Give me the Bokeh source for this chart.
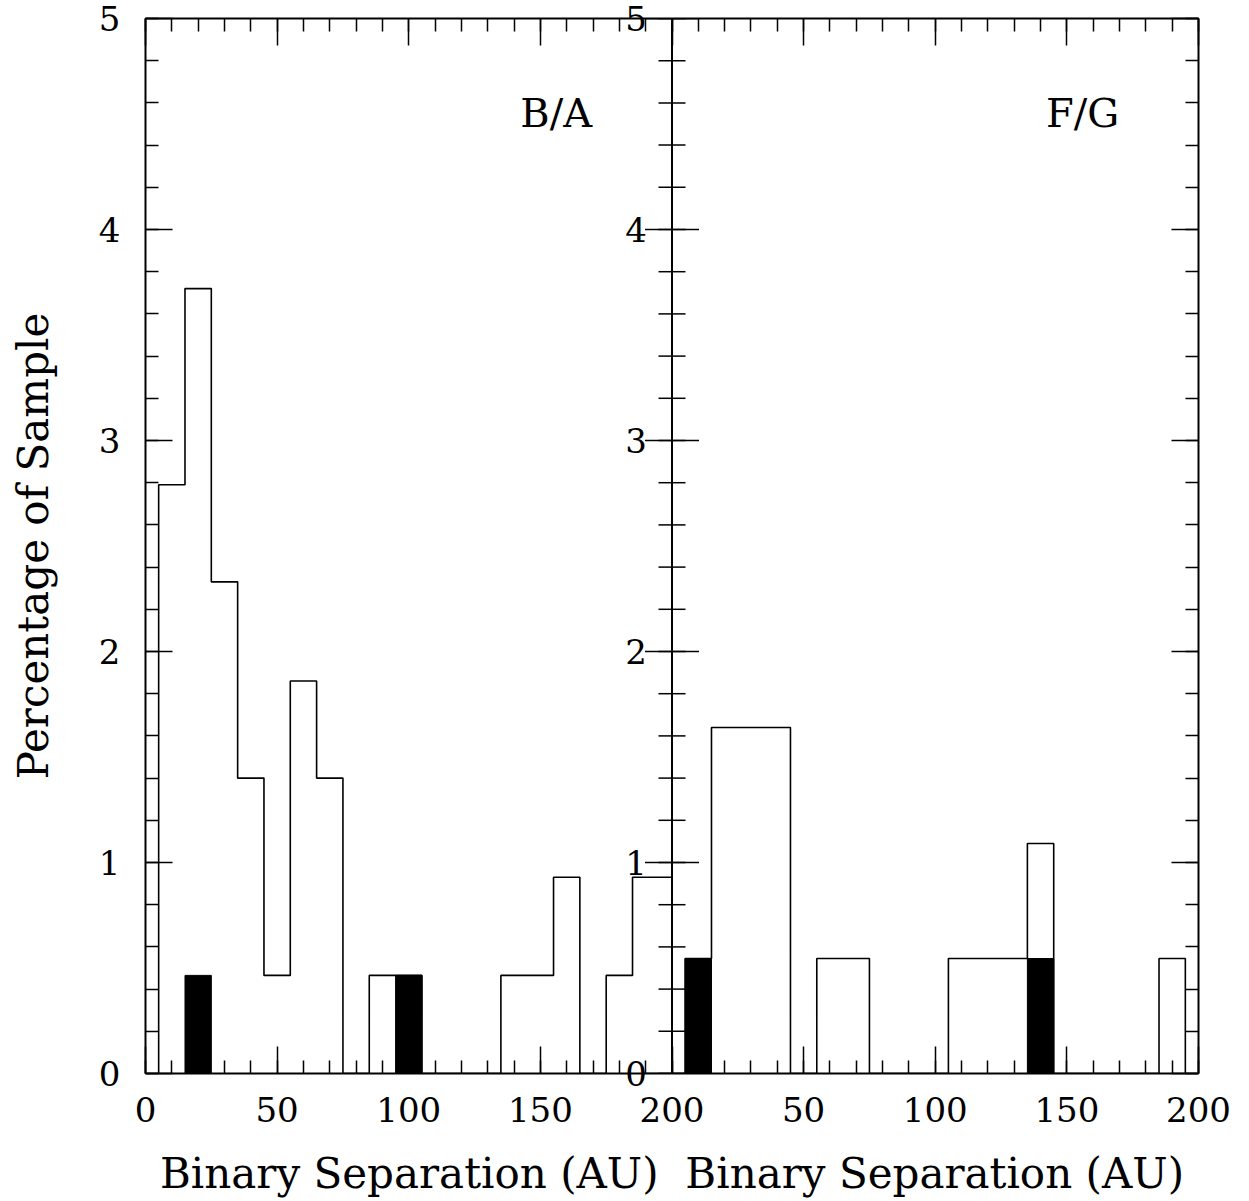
import numpy as np
from bokeh.plotting import figure
from bokeh.models import (Range1d, LinearAxis, FixedTicker, Span, Label,
                          ColumnDataSource)
from bokeh.embed import file_html
from bokeh.resources import INLINE

# ---------------- data (percentage of sample per 10 AU bin) ----------------
ba_edges = [5, 15, 25, 35, 45, 55, 65, 75, 85, 95, 105, 115, 125, 135, 145,
            155, 165, 175, 185, 195, 200]
ba_pct = [2.79, 3.72, 2.33, 1.40, 0.465, 1.86, 1.40, 0.0, 0.465, 0.465,
          0.0, 0.0, 0.0, 0.465, 0.465, 0.93, 0.0, 0.465, 0.93, 0.93]
ba_filled_left = [15, 95]
ba_filled_pct = [0.465, 0.465]

fg_edges = [5, 15, 25, 35, 45, 55, 65, 75, 85, 95, 105, 115, 125, 135, 145,
            155, 165, 175, 185, 195]
fg_pct = [0.545, 1.64, 1.64, 1.64, 0.0, 0.545, 0.545, 0.0, 0.0, 0.0,
          0.545, 0.545, 0.545, 1.09, 0.0, 0.0, 0.0, 0.0, 0.545]
fg_filled_left = [5, 135]
fg_filled_pct = [0.545, 0.545]
bin_width = 10

panel_names = ["B/A", "F/G"]
x_ticks = [0, 50, 100, 150, 200, 250, 300, 350, 400]
x_tick_labels = ["0", "50", "100", "150", "200", "50", "100", "150", "200"]
y_ticks = [0, 1, 2, 3, 4, 5]
y_tick_labels = ["0", "1", "2", "3", "4", "5"]
x_label = "Binary Separation (AU)"
y_label = "Percentage of Sample"

FONT = "DejaVu Serif"
TICK_FS = "34px"
LABEL_FS = "42px"
PANEL_FS = "40px"

x_minor = list(range(0, 401, 10))
y_minor = [round(v * 0.2, 1) for v in range(0, 26)]

p = figure(frame_width=1053, frame_height=1055,
           x_range=Range1d(0, 400), y_range=Range1d(0, 5),
           output_backend="svg", toolbar_location=None,
           min_border_left=145, min_border_top=18, min_border_right=40,
           min_border_bottom=125,
           background_fill_color="white", border_fill_color="white")
p.extra_x_ranges = {"fg": Range1d(-200, 200)}
p.outline_line_color = None
p.grid.visible = False


def style_axis(ax, ticker, show_labels):
    ax.ticker = ticker
    ax.axis_line_width = 2
    ax.axis_line_color = "black"
    ax.major_tick_in = 27
    ax.major_tick_out = 0
    ax.minor_tick_in = 13
    ax.minor_tick_out = 0
    ax.major_tick_line_width = 1.5
    ax.minor_tick_line_width = 1.5
    ax.major_tick_line_color = "black"
    ax.minor_tick_line_color = "black"
    ax.major_label_text_font = FONT
    ax.major_label_text_color = "black"
    if show_labels:
        ax.major_label_text_font_size = TICK_FS
    else:
        ax.major_label_text_font_size = "1px"
        ax.major_label_standoff = 0
        ax.major_label_overrides = {t: "" for t in ticker.ticks}


xt = FixedTicker(ticks=x_ticks, minor_ticks=x_minor)
yt = FixedTicker(ticks=y_ticks, minor_ticks=y_minor)

xaxis = p.xaxis[0]
style_axis(xaxis, xt, True)
xaxis.major_label_overrides = dict(zip(x_ticks, x_tick_labels))
xaxis.major_label_standoff = 23
xaxis.axis_label = x_label + "\u00a0" * 2 + x_label
xaxis.axis_label_text_font = FONT
xaxis.axis_label_text_font_size = LABEL_FS
xaxis.axis_label_text_font_style = "normal"
xaxis.axis_label_text_color = "black"
xaxis.axis_label_standoff = 24

yaxis = p.yaxis[0]
style_axis(yaxis, yt, True)
yaxis.major_label_standoff = 25
yaxis.axis_label = y_label
yaxis.axis_label_text_font = FONT
yaxis.axis_label_text_font_size = LABEL_FS
yaxis.axis_label_text_font_style = "normal"
yaxis.axis_label_text_color = "black"
yaxis.axis_label_standoff = 38

top = LinearAxis()
style_axis(top, FixedTicker(ticks=x_ticks, minor_ticks=x_minor), False)
p.add_layout(top, "above")
right = LinearAxis()
style_axis(right, FixedTicker(ticks=y_ticks, minor_ticks=y_minor), False)
p.add_layout(right, "right")

# ---------------- histograms ----------------
# filled (black) bins
p.quad(left=np.array(ba_filled_left), right=np.array(ba_filled_left) + bin_width,
       bottom=0, top=ba_filled_pct, fill_color="black", line_color="black",
       line_width=1)
p.quad(left=np.array(fg_filled_left), right=np.array(fg_filled_left) + bin_width,
       bottom=0, top=fg_filled_pct, fill_color="black", line_color="black",
       line_width=1, x_range_name="fg")

# outline step histograms
ba_x = np.r_[ba_edges[0], ba_edges]
ba_y = np.r_[0.0, ba_pct, 0.0]
p.step(ba_x, ba_y, mode="after", line_color="black", line_width=1.6)
fg_x = np.r_[fg_edges[0], fg_edges]
fg_y = np.r_[0.0, fg_pct, 0.0]
p.step(fg_x, fg_y, mode="after", line_color="black", line_width=1.6,
       x_range_name="fg")

# ---------------- shared middle axis ----------------
p.add_layout(Span(location=0, dimension="height", line_color="black",
                  line_width=2, x_range_name="fg"))
mid_major = ColumnDataSource(dict(x=[0] * len(y_ticks), y=y_ticks))
mid_minor = ColumnDataSource(dict(x=[0] * len(y_minor), y=y_minor))
p.scatter("x", "y", source=mid_major, marker="dash", size=54, line_color="black",
          line_width=1.5, x_range_name="fg")
p.scatter("x", "y", source=mid_minor, marker="dash", size=27, line_color="black",
          line_width=1.5, x_range_name="fg")
for yv, txt in zip(y_ticks, y_tick_labels):
    lab = Label(x=0, y=yv, text=txt, x_range_name="fg", x_offset=-25,
                text_align="right", text_baseline="middle",
                text_font=FONT, text_font_size=TICK_FS, text_color="black")
    # labels straddling the frame edge go to a side panel so they are not clipped
    if yv in (y_ticks[0], y_ticks[-1]):
        p.add_layout(lab, "right")
    else:
        p.add_layout(lab)

# ---------------- panel labels ----------------
p.add_layout(Label(x=156, y=4.55, text=panel_names[0], text_align="center",
                   text_baseline="middle", text_font=FONT, text_font_size=PANEL_FS,
                   text_color="black"))
p.add_layout(Label(x=156, y=4.55, text=panel_names[1], text_align="center",
                   text_baseline="middle", text_font=FONT, text_font_size=PANEL_FS,
                   text_color="black", x_range_name="fg"))

open("out.html", "w").write(file_html(p, INLINE))
